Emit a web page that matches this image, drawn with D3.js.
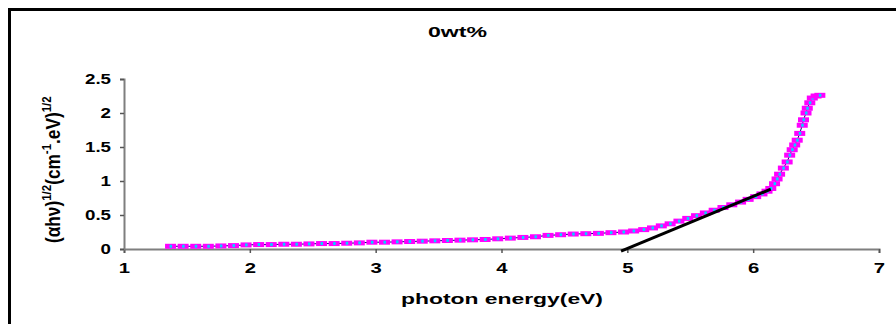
<!DOCTYPE html>
<html>
<head>
<meta charset="utf-8">
<script src="https://cdn.jsdelivr.net/npm/d3@7"></script>
<style>
  body { margin: 0; background: #fff; }
  text { font-family: "Liberation Sans", Arial, sans-serif; font-weight: bold; fill: #000; }
</style>
</head>
<body>
<svg width="896" height="324"></svg>
<script>
// photon energy (eV)
var energy = [1.37, 1.47, 1.57, 1.67, 1.77, 1.87, 1.97, 2.07, 2.17, 2.27,
  2.37, 2.47, 2.57, 2.67, 2.77, 2.87, 2.97, 3.07, 3.17, 3.27,
  3.37, 3.47, 3.57, 3.67, 3.77, 3.87, 3.97, 4.07, 4.17, 4.27,
  4.37, 4.47, 4.57, 4.67, 4.77, 4.87, 4.97, 5.05, 5.13, 5.2,
  5.27, 5.34, 5.41, 5.48, 5.55, 5.62, 5.69, 5.76, 5.83, 5.9,
  5.96, 6.02, 6.07, 6.11, 6.14, 6.17, 6.19, 6.21, 6.24, 6.27,
  6.29, 6.31, 6.33, 6.35, 6.37, 6.39, 6.40, 6.42, 6.43, 6.45,
  6.47, 6.5, 6.53];
// (ahv)^1/2 values
var absorb = [0.04, 0.04, 0.04, 0.04, 0.045, 0.05, 0.06, 0.065, 0.065, 0.07,
  0.07, 0.075, 0.08, 0.08, 0.085, 0.09, 0.1, 0.1, 0.105, 0.11,
  0.115, 0.12, 0.125, 0.13, 0.135, 0.14, 0.15, 0.16, 0.17, 0.18,
  0.2, 0.21, 0.22, 0.225, 0.23, 0.24, 0.25, 0.265, 0.285, 0.31,
  0.34, 0.37, 0.41, 0.45, 0.49, 0.53, 0.57, 0.61, 0.65, 0.69,
  0.73, 0.77, 0.81, 0.85, 0.89, 0.96, 1.03, 1.1, 1.19, 1.28,
  1.38, 1.46, 1.53, 1.6, 1.7, 1.82, 1.9, 2.0, 2.07, 2.15,
  2.22, 2.25, 2.26];
// tangent (band gap extrapolation)
var fitX = [4.95, 6.14];
var fitY = [-0.03, 0.88];
var xTicks = [1, 2, 3, 4, 5, 6, 7];
var yTicks = [0, 0.5, 1, 1.5, 2, 2.5];

var svg = d3.select("svg");

// frame
svg.append("rect")
  .attr("x", 9.5).attr("y", 9.5)
  .attr("width", 900).attr("height", 330)
  .attr("fill", "none")
  .attr("stroke", "#000")
  .attr("stroke-width", 3);

var x = d3.scaleLinear().domain([1, 7]).range([124, 879]);
var y = d3.scaleLinear().domain([0, 2.5]).range([249, 79]);

var data = energy.map(function(e, i){ return {x: e, y: absorb[i]}; });

// axes
var xAxis = svg.append("g")
  .attr("transform", "translate(0," + y(0) + ")")
  .call(d3.axisBottom(x).tickValues(xTicks).tickFormat(d3.format("d")).tickSize(4).tickPadding(9));
var yAxis = svg.append("g")
  .attr("transform", "translate(" + x(1) + ",0)")
  .call(d3.axisLeft(y).tickValues(yTicks).tickFormat(function(d){ return d; }).tickSize(4).tickPadding(9));
[xAxis, yAxis].forEach(function(g){
  g.select(".domain").attr("stroke", "#7f7f7f").attr("stroke-width", 2);
  g.selectAll(".tick line").attr("stroke", "#555").attr("stroke-width", 1.5);
  g.selectAll("text").attr("font-size", 15).attr("font-weight", "bold")
    .attr("font-family", "Liberation Sans, Arial, sans-serif").attr("fill", "#000");
});
// the picture is stretched sideways, so widen the tick labels
xAxis.selectAll(".tick text").attr("transform", "scale(1.35,1)");
yAxis.selectAll(".tick text")
  .attr("transform", "translate(-13,0) scale(1.25,1) translate(13,0)");

// series line
svg.append("path")
  .datum(data)
  .attr("fill", "none")
  .attr("stroke", "#000080")
  .attr("stroke-width", 1)
  .attr("d", d3.line().x(function(d){ return x(d.x); }).y(function(d){ return y(d.y); }));

// markers
var pts = svg.selectAll("g.pt").data(data).enter().append("g")
  .attr("class", "pt")
  .attr("transform", function(d){ return "translate(" + x(d.x) + "," + y(d.y) + ")"; });
pts.append("rect")
  .attr("x", -5.5).attr("y", -2.5)
  .attr("width", 11).attr("height", 5)
  .attr("fill", "#ff00ff");
pts.append("rect")
  .attr("x", -1).attr("y", -1.5)
  .attr("width", 2.5).attr("height", 3)
  .attr("fill", "#00d8ff");

// fit line
svg.append("line")
  .attr("x1", x(fitX[0])).attr("y1", y(fitY[0]))
  .attr("x2", x(fitX[1])).attr("y2", y(fitY[1]))
  .attr("stroke", "#000")
  .attr("stroke-width", 3);

// title
svg.append("text")
  .attr("x", 428).attr("y", 37)
  .attr("textLength", 59).attr("lengthAdjust", "spacingAndGlyphs")
  .attr("font-size", 14)
  .text("0wt%");

// x label
svg.append("text")
  .attr("x", 401).attr("y", 304)
  .attr("textLength", 202).attr("lengthAdjust", "spacingAndGlyphs")
  .attr("font-size", 15)
  .text("photon energy(eV)");

// y label
var yl = svg.append("text")
  .attr("transform", "translate(60,243) rotate(-90) scale(1.15,1.3)")
  .attr("font-size", 15);
yl.append("tspan").text("(αhν)");
yl.append("tspan").attr("font-size", 10).attr("dy", -7).text("1/2");
yl.append("tspan").attr("dy", 7).text("(cm");
yl.append("tspan").attr("font-size", 10).attr("dy", -7).text("-1");
yl.append("tspan").attr("dy", 7).text(".eV)");
yl.append("tspan").attr("font-size", 10).attr("dy", -7).text("1/2");
</script>
</body>
</html>
